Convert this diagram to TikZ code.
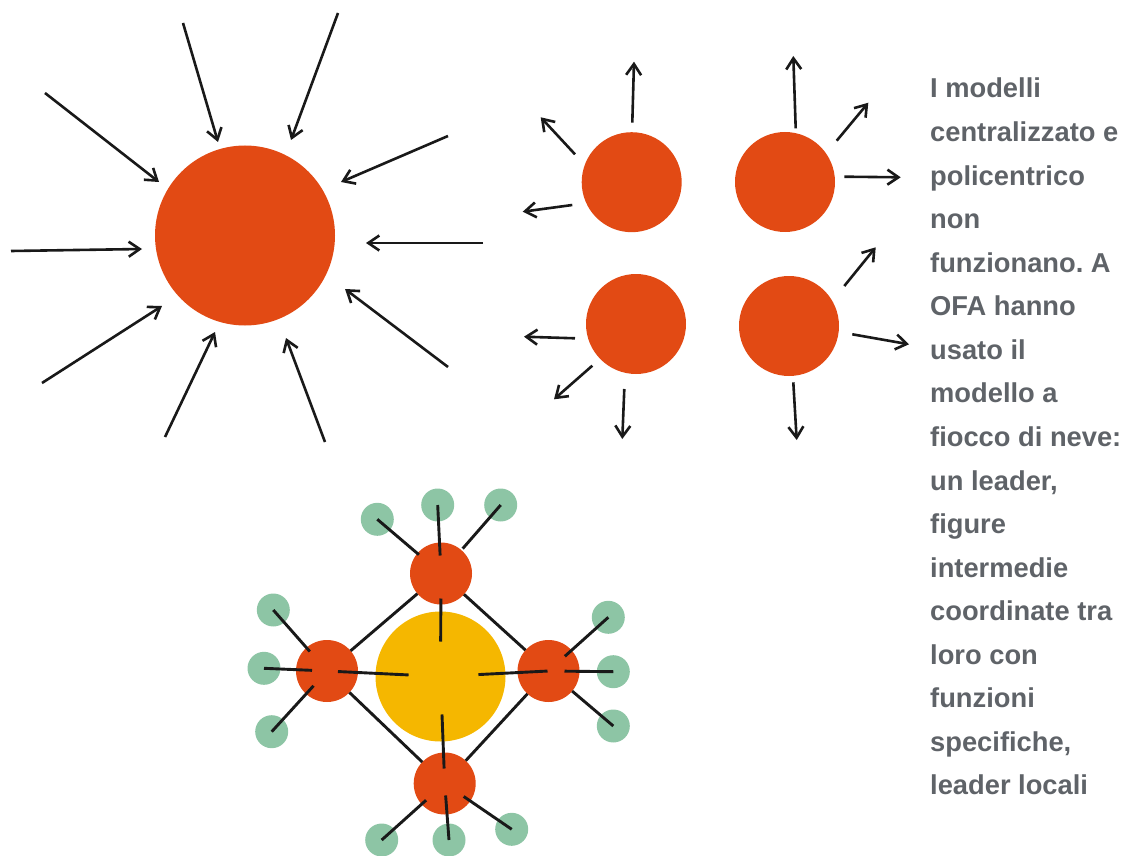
\documentclass[tikz,border=0pt]{standalone}
\usepackage{fontspec}
\setmainfont{Liberation Sans}
\usetikzlibrary{arrows.meta}
\frenchspacing
\definecolor{redor}{HTML}{E24A14}
\definecolor{yel}{HTML}{F5B700}
\definecolor{grn}{HTML}{8DC5A5}
\definecolor{txtgray}{HTML}{5F6368}
\tikzset{
  arr/.style={-{Straight Barb[length=11pt,width=15pt]}, line width=2.6pt, black!90},
  spoke/.style={line width=2.9pt, black!90},
  dot/.style={circle, inner sep=0pt, outer sep=0pt, draw=none},
  bigred/.style={dot, fill=redor, minimum size=180pt},
  midred/.style={dot, fill=redor, minimum size=100pt},
  smallred/.style={dot, fill=redor, minimum size=62pt},
  hub/.style={dot, fill=yel, minimum size=130pt},
  leaf/.style={dot, fill=grn, minimum size=33pt},
  txt/.style={anchor=north west, inner sep=0pt, align=left, text=txtgray,
    font=\bfseries\fontsize{27.3}{43.56}\selectfont}
}
\begin{document}
\begin{tikzpicture}[x=1pt,y=-1pt]
\useasboundingbox (0,0) rectangle (1128,856);

% centralized model
\node[bigred] (sun) at (245,235.5) {};
\foreach \n/\xa/\ya/\xb/\yb in {1/45/93/159/182, 2/183/23/218/142, 3/338/13/291/140,
  4/448/136/341/182, 5/483/243/366/243, 6/448/367/345/289, 7/325/442/286/338,
  8/165/437/215/332, 9/42/383/162/306, 10/11/251/142/249}{
  \coordinate (s\n a) at (\xa,\ya);
  \coordinate (s\n b) at (\xb,\yb);
  \draw[arr] (s\n a) -- (s\n b);
}

% polycentric model
\node[midred] (p1) at (631.7,182.2) {};
\node[midred] (p2) at (785,182) {};
\node[midred] (p3) at (636,324) {};
\node[midred] (p4) at (789,326) {};
\foreach \n/\xa/\ya/\xb/\yb in {1/632.3/122.7/634/61.7, 2/575/154.3/540.7/117.3,
  3/572.3/205/522.7/211.7, 4/795.7/128.3/793.3/56, 5/836.7/140.7/868.3/102.7,
  6/844.3/176.7/900.7/177.3, 7/844.3/286/875.7/247.3, 8/852.3/334.3/909/344.3,
  9/793.3/382.3/796.7/440, 10/575/338.3/524/336.7, 11/592.3/365.7/554/399.3,
  12/624.3/389/622.3/439}{
  \coordinate (q\n a) at (\xa,\ya);
  \coordinate (q\n b) at (\xb,\yb);
  \draw[arr] (q\n a) -- (q\n b);
}

% snowflake model
\node[hub] (yc) at (440.5,676.5) {};
\node[smallred] (rt) at (441,573.5) {};
\node[smallred] (rl) at (327,671) {};
\node[smallred] (rr) at (548.5,671) {};
\node[smallred] (rb) at (444.7,783.5) {};
\node[leaf] (gt1) at (377.3,519.3) {};
\node[leaf] (gt2) at (437.7,505) {};
\node[leaf] (gt3) at (500.7,505) {};
\node[leaf] (gl1) at (273.3,610) {};
\node[leaf] (gl2) at (264,668.3) {};
\node[leaf] (gl3) at (271.7,731.7) {};
\node[leaf] (gr1) at (608.3,617.3) {};
\node[leaf] (gr2) at (613.3,671.7) {};
\node[leaf] (gr3) at (613.3,726) {};
\node[leaf] (gb1) at (381.7,840) {};
\node[leaf] (gb2) at (449,840) {};
\node[leaf] (gb3) at (511.7,829.3) {};

\draw[spoke] (rt) -- (rl);
\draw[spoke] (rt) -- (rr);
\draw[spoke] (rl) -- (rb);
\draw[spoke] (rr) -- (rb);

\draw[spoke, shorten <=29pt] (rt.center) -- (gt1.center);
\draw[spoke, shorten <=18pt] (rt.center) -- (gt2.center);
\draw[spoke, shorten <=33pt] (rt.center) -- (gt3.center);
\draw[spoke, shorten <=26pt] (rl.center) -- (gl1.center);
\draw[spoke, shorten <=15pt] (rl.center) -- (gl2.center);
\draw[spoke, shorten <=20pt] (rl.center) -- (gl3.center);
\draw[spoke, shorten <=22pt] (rr.center) -- (gr1.center);
\draw[spoke, shorten <=16pt] (rr.center) -- (gr2.center);
\draw[spoke, shorten <=31pt] (rr.center) -- (gr3.center);
\draw[spoke, shorten <=25pt] (rb.center) -- (gb1.center);
\draw[spoke, shorten <=12pt] (rb.center) -- (gb2.center);
\draw[spoke, shorten <=23pt] (rb.center) -- (gb3.center);

\draw[spoke, shorten <=25pt, shorten >=35pt] (rt.center) -- (yc.center);
\draw[spoke, shorten <=11pt, shorten >=32pt] (rl.center) -- (yc.center);
\draw[spoke, shorten <=38pt, shorten >=1pt] (yc.center) -- (rr.center);
\draw[spoke, shorten <=38pt, shorten >=15pt] (yc.center) -- (rb.center);

% text
\node[txt] (caption) at (930,78) {I modelli\\centralizzato e\\policentrico\\non\\funzionano. A\\OFA hanno\\usato il\\modello a\\fiocco di neve:\\un leader,\\figure\\intermedie\\coordinate tra\\loro con\\funzioni\\specifiche,\\leader locali};
\end{tikzpicture}
\end{document}
